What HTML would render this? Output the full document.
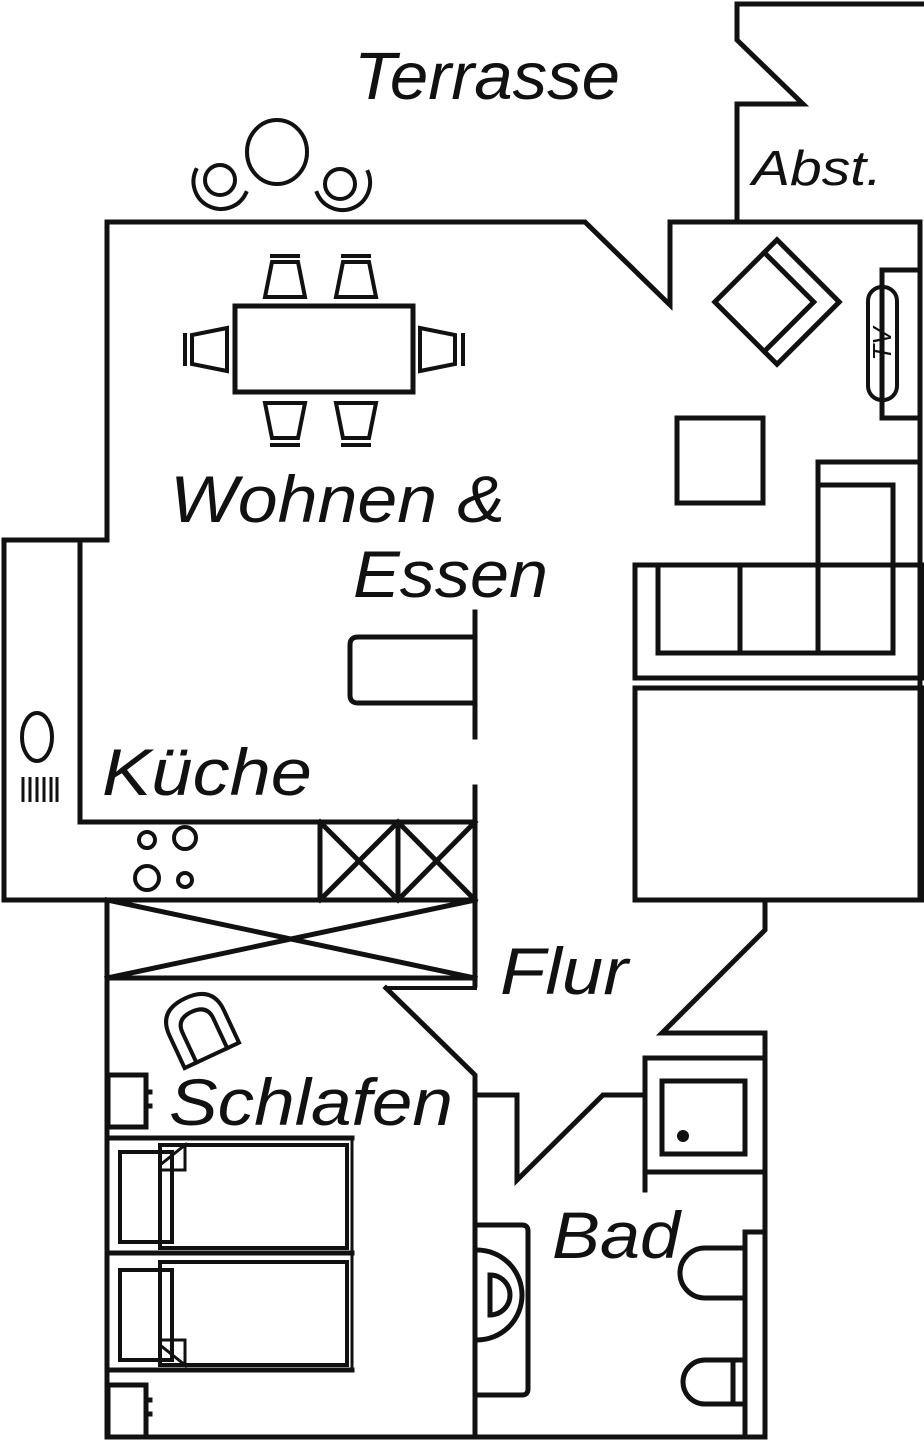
<!DOCTYPE html>
<html><head><meta charset="utf-8"><style>
html,body{margin:0;padding:0;background:#fff}
svg{display:block}
text{font-family:"Liberation Sans",sans-serif;font-style:italic;fill:#111}
</style></head><body>
<svg width="924" height="1440" viewBox="0 0 924 1440" xmlns="http://www.w3.org/2000/svg">
<g fill="none" stroke="#111" stroke-width="5" stroke-linejoin="miter" stroke-linecap="square">
<polyline points="737,222 737,104 803,104 737,40 737,4 922,4"/>
<polyline points="920,222 670,222 670,305 585,222 107,222 107,540 4,540 4,900 107,900"/>
<line x1="920" y1="222" x2="920" y2="900"/>
<polyline points="80,540 80,822 475,822"/>
<line x1="4" y1="900" x2="475" y2="900"/>
<rect x="320" y="822" width="155" height="78"/>
<line x1="398" y1="822" x2="398" y2="900"/>
<polyline points="320,822 398,900"/><polyline points="398,822 320,900"/>
<polyline points="398,822 475,900"/><polyline points="475,822 398,900"/>
<line x1="475" y1="612" x2="475" y2="737"/>
<line x1="475" y1="787" x2="475" y2="985"/>
<path d="M475,637 H358 Q350,637 350,645 V695 Q350,703 358,703 H475"/>
<rect x="107" y="900" width="368" height="78"/>
<line x1="107" y1="900" x2="475" y2="978"/><line x1="475" y1="900" x2="107" y2="978"/>
<line x1="386" y1="988" x2="475" y2="988" stroke-width="4"/>
<line x1="107" y1="978" x2="107" y2="1437"/>
<polyline points="386,988 475,1075 475,1437"/>
<line x1="107" y1="1437" x2="765" y2="1437"/>
<rect x="108" y="1075" width="38" height="52"/>
<line x1="146" y1="1092" x2="150" y2="1092"/><line x1="146" y1="1106" x2="150" y2="1106"/>
<rect x="108" y="1385" width="38" height="52"/>
<line x1="146" y1="1400" x2="150" y2="1400"/><line x1="146" y1="1414" x2="150" y2="1414"/>
<line x1="107" y1="1138" x2="352" y2="1138"/>
<line x1="107" y1="1253" x2="352" y2="1253"/>
<line x1="107" y1="1370" x2="352" y2="1370"/>
<rect x="160" y="1145" width="187" height="103" stroke-width="4"/>
<rect x="160" y="1262" width="187" height="103" stroke-width="4"/>
<line x1="352" y1="1138" x2="352" y2="1370" stroke-width="3"/>
<rect x="120" y="1152" width="52" height="90" stroke-width="4"/>
<rect x="120" y="1270" width="52" height="90" stroke-width="4"/>
<polyline points="160,1165 185,1145 185,1170 160,1170" stroke-width="3"/>
<polyline points="160,1345 185,1365 185,1340 160,1340" stroke-width="3"/>
<g transform="translate(200,1030) rotate(-25)">
<path d="M-30,28 V-8 Q-30,-35 0,-35 Q30,-35 30,-8 V28 Z" stroke-width="4"/>
<path d="M-17,28 V-5 Q-17,-20 0,-20 Q17,-20 17,-5 V28" stroke-width="4"/>
</g>
<polyline points="765,900 765,930 662,1033 765,1033 765,1437"/>
<polyline points="477,1095 517,1095 517,1180 603,1095 645,1095"/>
<line x1="645" y1="1058" x2="645" y2="1190"/>
<line x1="645" y1="1058" x2="765" y2="1058"/>
<line x1="645" y1="1172" x2="765" y2="1172"/>
<rect x="662" y="1081" width="83" height="73"/>
<path d="M477,1225 H522 Q528,1225 528,1231 V1389 Q528,1395 522,1395 H477"/>
<path d="M477,1250 A42,42 0 0 1 477,1340"/>
<path d="M490,1275 A18,18 0 0 1 490,1315 Z"/>
<polyline points="762,1232 745,1232 745,1437"/>
<path d="M745,1248 H705 A25,25 0 0 0 705,1298 H745"/>
<path d="M745,1360 H705 A22,22 0 0 0 705,1404 H745"/>
<line x1="733" y1="1360" x2="733" y2="1404"/>
<rect x="677" y="418" width="86" height="85"/>
<polyline points="920,270 882,270 882,418 920,418"/>
<rect x="868" y="287" width="29" height="113" rx="14" stroke-width="4"/>
<g transform="translate(777,302) rotate(45)">
<rect x="-44" y="-44" width="88" height="88"/>
<polyline points="-44,-26 26,-26 26,44" />
</g>
<polyline points="920,462 818,462 818,563"/>
<rect x="635" y="565" width="287" height="113"/>
<rect x="658" y="565" width="235" height="88"/>
<polyline points="818,485 893,485 893,565"/>
<line x1="740" y1="565" x2="740" y2="653"/><line x1="818" y1="565" x2="818" y2="653"/>
<rect x="635" y="688" width="287" height="212"/>
<rect x="235" y="306" width="178" height="86"/>
<path d="M265,297 L272,262 H298 L305,297 Z" stroke-width="4"/><line x1="272" y1="256" x2="298" y2="256" stroke-width="4"/>
<path d="M336,297 L343,262 H369 L376,297 Z" stroke-width="4"/><line x1="343" y1="256" x2="369" y2="256" stroke-width="4"/>
<path d="M265,403 L272,438 H298 L305,403 Z" stroke-width="4"/><line x1="272" y1="445" x2="298" y2="445" stroke-width="4"/>
<path d="M336,403 L343,438 H369 L376,403 Z" stroke-width="4"/><line x1="343" y1="445" x2="369" y2="445" stroke-width="4"/>
<path d="M227,328 L192,335 V364 L227,371 Z" stroke-width="4"/><line x1="185" y1="335" x2="185" y2="364" stroke-width="4"/>
<path d="M420,328 L455,335 V364 L420,371 Z" stroke-width="4"/><line x1="463" y1="335" x2="463" y2="364" stroke-width="4"/>
<ellipse cx="277" cy="152" rx="30" ry="32" stroke-width="4"/>
<circle cx="220" cy="180" r="15" stroke-width="4"/>
<path d="M196,170 A26,26 0 0 0 246,193" stroke-width="4"/>
<circle cx="340" cy="184" r="15" stroke-width="4"/>
<path d="M317,193 A26,26 0 0 0 368,172" stroke-width="4"/>
<ellipse cx="37" cy="737" rx="15" ry="24" stroke-width="4"/>
<circle cx="147" cy="840" r="8" stroke-width="4"/>
<circle cx="185" cy="838" r="11" stroke-width="4"/>
<circle cx="147" cy="878" r="12" stroke-width="4"/>
<circle cx="185" cy="880" r="7" stroke-width="4"/>
</g>
<g stroke="#111" stroke-width="3">
<line x1="23" y1="777" x2="23" y2="802"/><line x1="30" y1="777" x2="30" y2="802"/><line x1="37" y1="777" x2="37" y2="802"/><line x1="44" y1="777" x2="44" y2="802"/><line x1="51" y1="777" x2="51" y2="802"/><line x1="57" y1="777" x2="57" y2="802"/>
</g>
<circle cx="683" cy="1136" r="6" fill="#111"/>
<text x="354" y="99" font-size="67" textLength="266" lengthAdjust="spacingAndGlyphs">Terrasse</text>
<text x="752" y="185" font-size="49" textLength="130" lengthAdjust="spacingAndGlyphs">Abst.</text>
<text x="170" y="522" font-size="66" textLength="335" lengthAdjust="spacingAndGlyphs">Wohnen &amp;</text>
<text x="353" y="597" font-size="66" textLength="195" lengthAdjust="spacingAndGlyphs">Essen</text>
<text x="102" y="795" font-size="66" textLength="210" lengthAdjust="spacingAndGlyphs">Küche</text>
<text x="500" y="994" font-size="66" textLength="128" lengthAdjust="spacingAndGlyphs">Flur</text>
<text x="169" y="1125" font-size="66" textLength="284" lengthAdjust="spacingAndGlyphs">Schlafen</text>
<text x="552" y="1258" font-size="66" textLength="128" lengthAdjust="spacingAndGlyphs">Bad</text>
<text x="0" y="0" font-size="26" font-style="normal" transform="translate(891,344) rotate(-90)" text-anchor="middle">TV</text>
</svg>
</body></html>
